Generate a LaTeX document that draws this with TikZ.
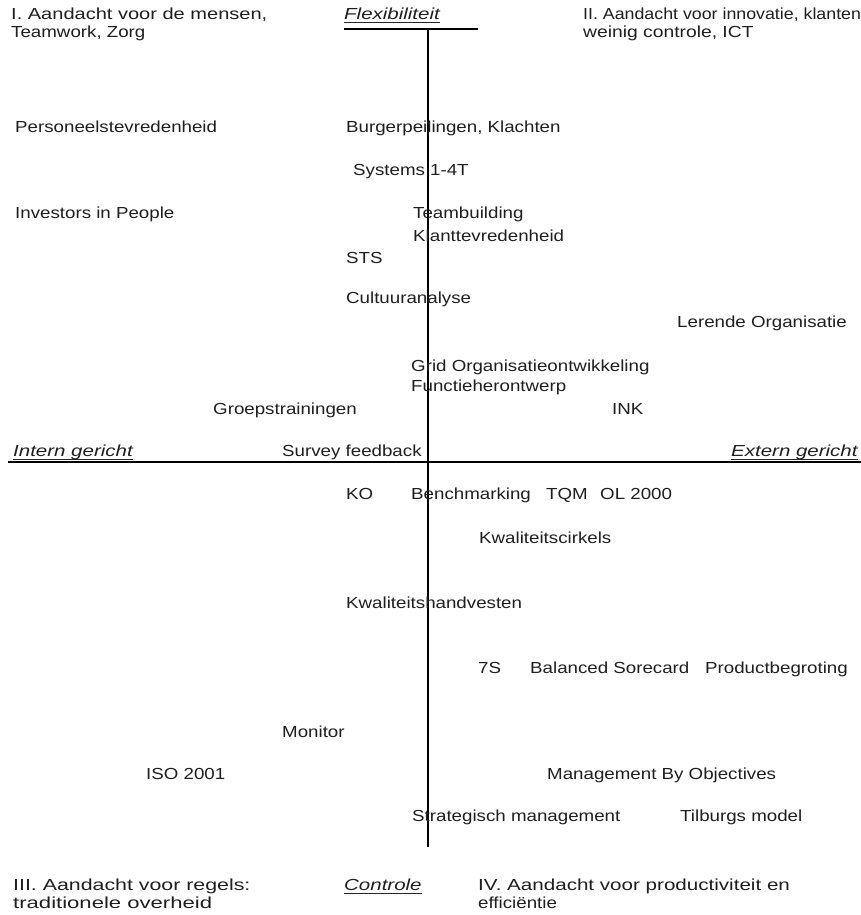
\documentclass[tikz,border=0pt]{standalone}
\usepackage{graphicx}
\usepackage{fontspec}
\setmainfont{Liberation Sans}[FakeStretch=1.17]
\newfontfamily\axfont{Liberation Sans}[FakeStretch=1.28]
\newcommand\hsc[2]{\scalebox{#1}[1]{#2}}
\begin{document}
\begin{tikzpicture}[x=1pt,y=-1pt,
  lbl/.style={anchor=west,inner sep=0pt,text height=11pt,text depth=0pt,font=\fontsize{16}{18}\selectfont,text=black!88},
  axlbl/.style={anchor=west,inner sep=0pt,text height=11pt,text depth=0pt,font=\axfont\itshape\fontsize{16}{18}\selectfont,text=black!88},
  axis/.style={line width=2pt,black},
  uline/.style={line width=1pt,black!85}]
\path[use as bounding box,fill=white] (0,0) rectangle (861,915);
% axes
\coordinate (vtop) at (428,29);
\coordinate (vbot) at (428,847);
\coordinate (hl) at (8,462);
\coordinate (hr) at (861,462);
\coordinate (fl) at (344,29);
\coordinate (fr) at (478,29);
\draw[axis] (vtop) -- (vbot);
\draw[axis] (hl) -- (hr);
\draw[axis] (fl) -- (fr);
% quadrant headers
\node[lbl] (q1a) at (11,14) {\hsc{1.07}{I. Aandacht voor de mensen,}};
\node[lbl] (q1b) at (11,32) {Teamwork, Zorg};
\node[lbl] (q2a) at (583,14) {\hsc{0.95}{II. Aandacht voor innovatie, klanten}};
\node[lbl] (q2b) at (583,32) {\hsc{1.03}{weinig controle, ICT}};
\node[lbl] (q3a) at (13,885) {\hsc{1.14}{III. Aandacht voor regels:}};
\node[lbl] (q3b) at (13,903) {\hsc{1.18}{traditionele overheid}};
\node[lbl] (q4a) at (478,885) {\hsc{1.1}{IV. Aandacht voor productiviteit en}};
\node[lbl] (q4b) at (478,903) {efficiëntie};
% axis labels
\node[axlbl] (flex) at (344,14) {Flexibiliteit};
\node[axlbl] (ctrl) at (344,885) {Controle};
\node[axlbl] (intern) at (13,451) {Intern gericht};
\node[axlbl] (extern) at (731,451) {Extern gericht};
\foreach \n in {flex,ctrl,intern,extern}
  \draw[uline] ([yshift=-2.5pt]\n.south west) -- ([yshift=-2.5pt]\n.south east);
% items
\node[lbl] (pers) at (15,127) {Personeelstevredenheid};
\node[lbl] (burg) at (346,127) {Burgerpeilingen, Klachten};
\node[lbl] (sys) at (353,170) {Systems 1-4T};
\node[lbl] (inv) at (15,213) {Investors in People};
\node[lbl] (team) at (413,213) {Teambuilding};
\node[lbl] (klant) at (413,236) {Klanttevredenheid};
\node[lbl] (sts) at (346,258) {STS};
\node[lbl] (cult) at (346,298) {Cultuuranalyse};
\node[lbl] (ler) at (677,322) {Lerende Organisatie};
\node[lbl] (grid) at (411,366) {Grid Organisatieontwikkeling};
\node[lbl] (func) at (411,386) {Functieherontwerp};
\node[lbl] (groep) at (213,409) {Groepstrainingen};
\node[lbl] (ink) at (612,409) {INK};
\node[lbl] (surv) at (282,451) {Survey feedback};
\node[lbl] (ko) at (346,494) {KO};
\node[lbl] (bench) at (411,494) {Benchmarking};
\node[lbl] (tqm) at (546,494) {TQM};
\node[lbl] (ol) at (600,494) {OL 2000};
\node[lbl] (kcirk) at (479,538) {Kwaliteitscirkels};
\node[lbl] (khand) at (346,603) {Kwaliteitshandvesten};
\node[lbl] (s7) at (478,668) {7S};
\node[lbl] (bsc) at (530,668) {Balanced Sorecard};
\node[lbl] (prod) at (705,668) {Productbegroting};
\node[lbl] (mon) at (282,732) {Monitor};
\node[lbl] (iso) at (146,774) {ISO 2001};
\node[lbl] (mbo) at (547,774) {Management By Objectives};
\node[lbl] (strat) at (412,816) {Strategisch management};
\node[lbl] (tilb) at (680,816) {Tilburgs model};
\end{tikzpicture}
\end{document}
